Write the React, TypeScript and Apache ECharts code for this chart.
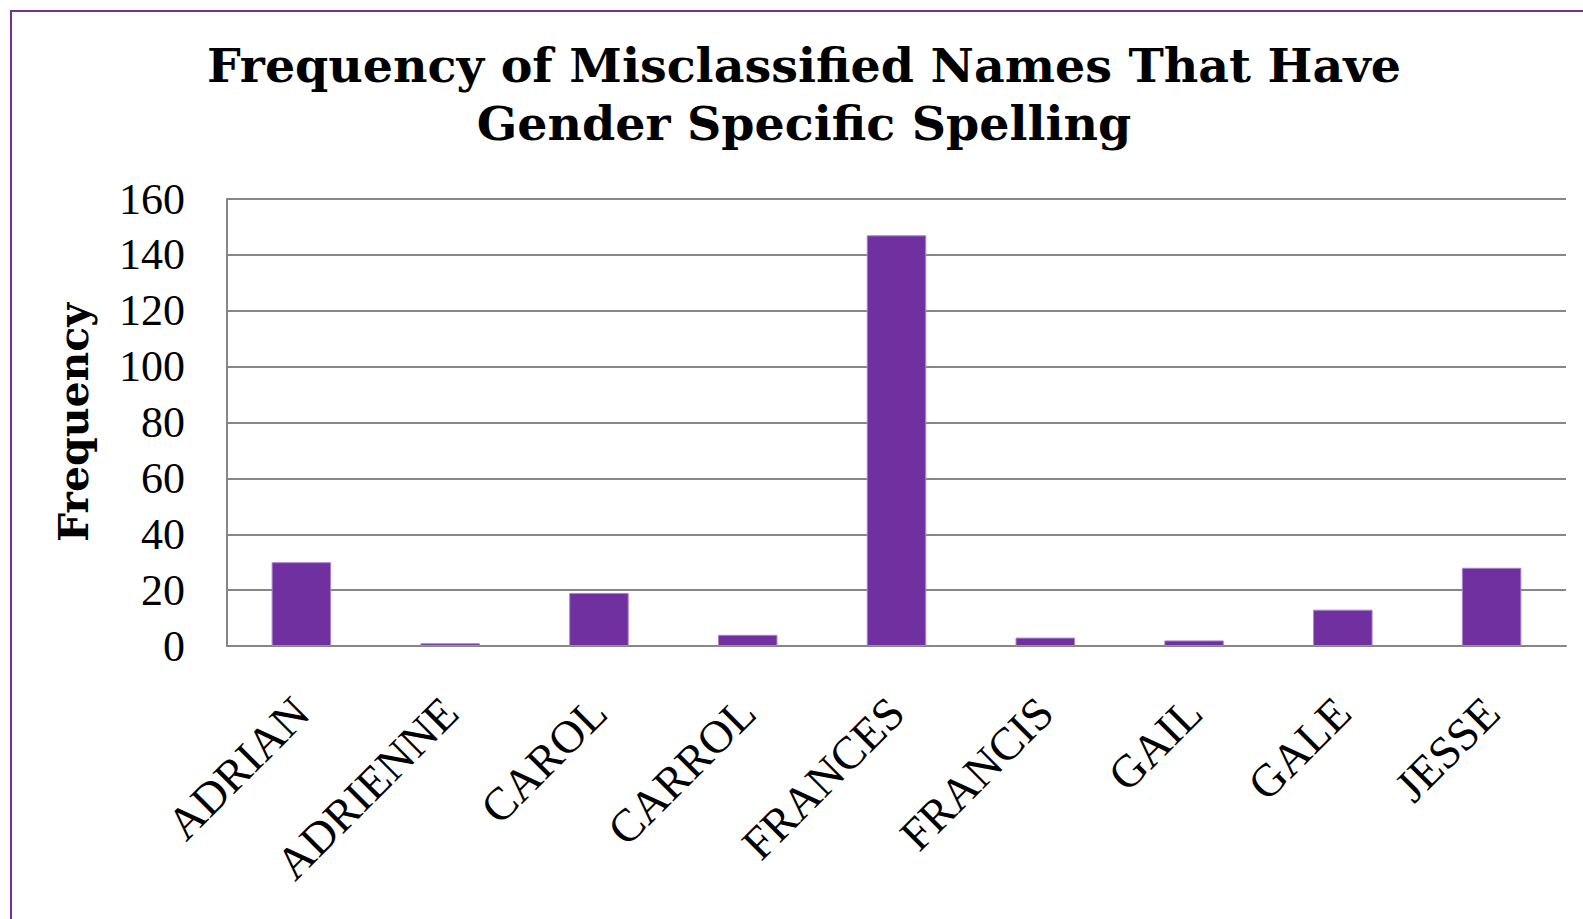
import React, { useEffect, useRef } from "react";
import * as echarts from "echarts";

const categories = ["ADRIAN", "ADRIENNE", "CAROL", "CARROL", "FRANCES", "FRANCIS", "GAIL", "GALE", "JESSE"];
const frequencies = [30, 1, 19, 4, 147, 3, 2, 13, 28];
const yTicks = { min: 0, max: 160, interval: 20 };

const PURPLE = "#7030A0";
const GRID_GRAY = "#868686";
const SERIF = "'Liberation Serif', 'DejaVu Serif', serif";
const BOLD_SERIF = "'DejaVu Serif', 'Liberation Serif', serif";

export default function App() {
  const ref = useRef<HTMLDivElement>(null);

  useEffect(() => {
    if (!ref.current) return;
    const chart = echarts.init(ref.current, undefined, { renderer: "svg" });
    chart.setOption({
      animation: false,
      backgroundColor: "#ffffff",
      title: {
        text: "Frequency of Misclassified Names That Have\nGender Specific Spelling",
        left: 799,
        top: 31,
        textAlign: "center",
        textStyle: {
          fontFamily: BOLD_SERIF,
          fontWeight: "bold",
          fontSize: 47.5,
          lineHeight: 58,
          color: "#000",
        },
      },
      graphic: [
        {
          type: "rect",
          shape: { x: 11, y: 11, width: 1700, height: 1100 },
          style: { fill: "none", stroke: PURPLE, lineWidth: 2 },
          silent: true,
        },
      ],
      grid: { left: 227, right: 17, top: 199, bottom: 273, containLabel: false },
      xAxis: {
        type: "category",
        data: categories,
        axisLine: { show: true, lineStyle: { color: GRID_GRAY, width: 2 } },
        axisTick: { show: false },
        axisLabel: {
          rotate: 45,
          margin: 59,
          interval: 0,
          fontFamily: SERIF,
          fontSize: 46,
          color: "#000",
        },
      },
      yAxis: {
        type: "value",
        min: yTicks.min,
        max: yTicks.max,
        interval: yTicks.interval,
        name: "Frequency",
        nameLocation: "middle",
        nameRotate: 90,
        nameGap: 133,
        nameTextStyle: {
          fontFamily: BOLD_SERIF,
          fontWeight: "bold",
          fontSize: 41,
          color: "#000",
        },
        axisLine: { show: true, lineStyle: { color: GRID_GRAY, width: 2 } },
        axisTick: { show: false },
        splitLine: { show: true, lineStyle: { color: GRID_GRAY, width: 2 } },
        axisLabel: {
          margin: 42,
          fontFamily: SERIF,
          fontSize: 44,
          color: "#000",
        },
      },
      series: [
        {
          type: "bar",
          data: frequencies,
          barCategoryGap: "60%",
          itemStyle: { color: PURPLE, borderColor: "#a985c8", borderWidth: 1 },
        },
      ],
    });
    return () => chart.dispose();
  }, []);

  return (
    <div
      ref={ref}
      style={{ position: "absolute", left: 0, top: 0, width: 1583, height: 919 }}
    />
  );
}
